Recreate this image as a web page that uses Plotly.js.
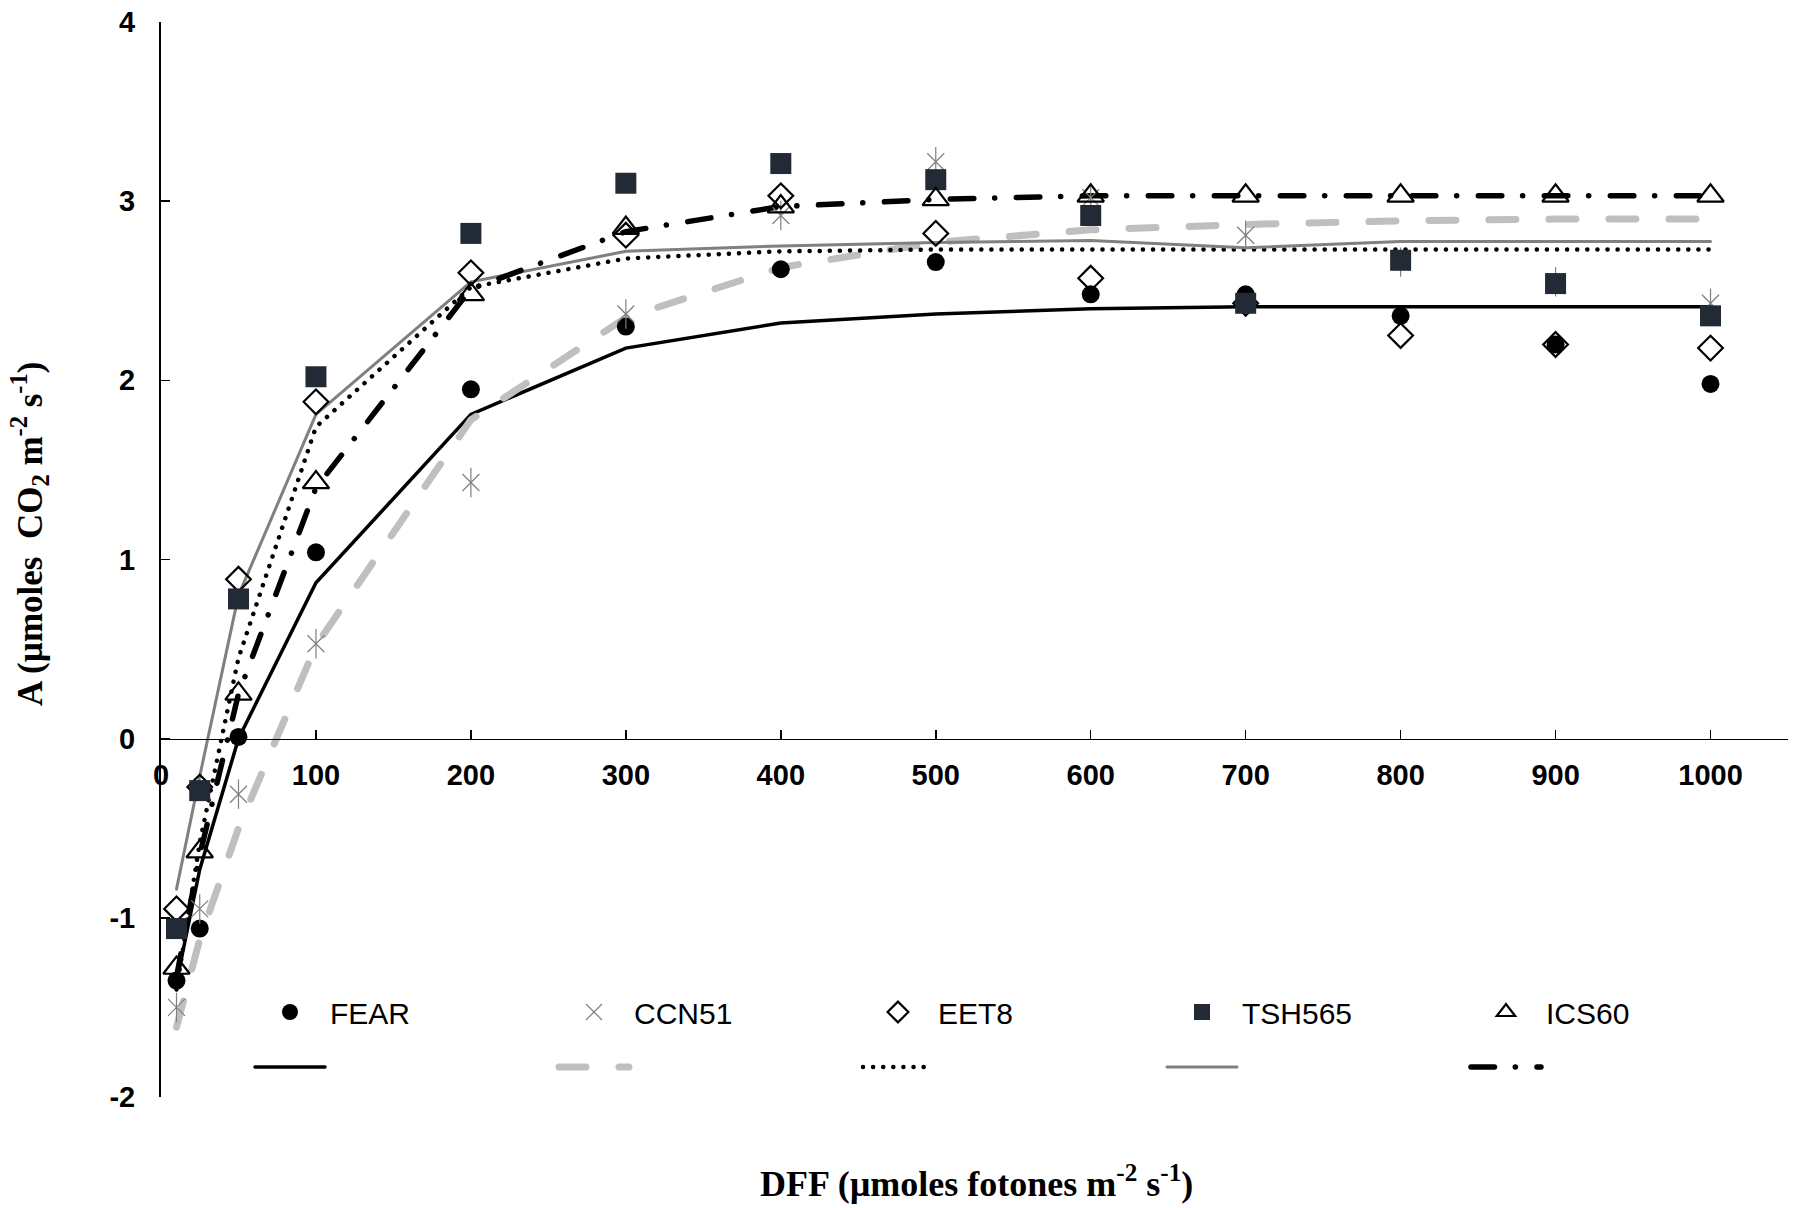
<!DOCTYPE html>
<html>
<head>
<meta charset="utf-8">
<script src="https://cdn.plot.ly/plotly-3.0.1.min.js"></script>
<style>
  html, body { margin: 0; padding: 0; background: #fff; }
  #chart { width: 1800px; height: 1208px; }
  svg .js-line { stroke-linecap: round !important; }
</style>
</head>
<body>
<div id="chart"></div>
<script>
// DFF (µmoles fotones m-2 s-1)
const dff = [10, 25, 50, 100, 200, 300, 400, 500, 600, 700, 800, 900, 1000];

// Observed photosynthesis A (points)
const fearObs   = [-1.35, -1.06, 0.01, 1.04, 1.95, 2.30, 2.62, 2.66, 2.48, 2.48, 2.36, 2.20, 1.98];
const ccn51Obs  = [-1.50, -0.95, -0.31, 0.53, 1.43, 2.37, 2.92, 3.22, 3.02, 2.81, 2.66, 2.55, 2.43];
const eet8Obs   = [-0.95, -0.27, 0.89, 1.88, 2.60, 2.81, 3.03, 2.82, 2.57, 2.43, 2.25, 2.20, 2.18];
const tsh565Obs = [-1.06, -0.29, 0.78, 2.02, 2.82, 3.10, 3.21, 3.12, 2.92, 2.43, 2.67, 2.54, 2.36];
const ics60Obs  = [-1.28, -0.63, 0.25, 1.43, 2.48, 2.85, 2.97, 3.01, 3.03, 3.03, 3.03, 3.03, 3.03];

// Fitted curves
const fearFit   = [-1.36, -0.73, 0.00, 0.87, 1.81, 2.18, 2.32, 2.37, 2.40, 2.41, 2.41, 2.41, 2.41];
const ccn51Fit  = [-1.61, -1.12, -0.50, 0.52, 1.78, 2.35, 2.63, 2.77, 2.84, 2.87, 2.89, 2.90, 2.90];
const eet8Fit   = [-1.40, -0.58, 0.45, 1.74, 2.52, 2.68, 2.72, 2.73, 2.73, 2.73, 2.73, 2.73, 2.73];
const tsh565Fit = [-0.84, -0.21, 0.80, 1.81, 2.55, 2.72, 2.75, 2.77, 2.78, 2.74, 2.775, 2.775, 2.775];
const ics60Fit  = [-1.33, -0.65, 0.25, 1.40, 2.51, 2.83, 2.97, 3.01, 3.03, 3.03, 3.03, 3.03, 3.03];

const seriesNames = ["FEAR", "CCN51", "EET8", "TSH565", "ICS60"];
const xTicks = [0, 100, 200, 300, 400, 500, 600, 700, 800, 900, 1000];
const yTicks = [-2, -1, 0, 1, 2, 3, 4];

const fits = [fearFit, ccn51Fit, eet8Fit, tsh565Fit, ics60Fit];
const obs = [fearObs, ccn51Obs, eet8Obs, tsh565Obs, ics60Obs];

const lineStyles = [
  {color: '#000000', width: 3.5, dash: 'solid'},
  {color: '#bfbfbf', width: 7, dash: '27px,33px'},
  {color: '#000000', width: 4.5, dash: '0.1px,10px'},
  {color: '#808080', width: 3, dash: 'solid'},
  {color: '#000000', width: 5.5, dash: '23.5px,20.8px,0.1px,21.6px'}
];
const markerStyles = [
  {symbol: 'circle', size: 18, color: '#000000', line: {width: 0}},
  {symbol: 'x-thin-open', size: 17, color: '#7f7f7f', line: {width: 1.2, color: '#7f7f7f'}},
  {symbol: 'diamond-open', size: 19, color: '#000000', line: {width: 2.2, color: '#000000'}},
  {symbol: 'square', size: 21, color: '#222a35', line: {width: 0}},
  {symbol: 'triangle-up-open', size: 23, color: '#000000', line: {width: 2.2, color: '#000000'}}
];

const traces = [];
// fitted lines first (drawn below points), listed in legend2 (no labels)
fits.forEach((f, i) => {
  traces.push({
    x: dff, y: f, type: 'scatter', mode: 'lines',
    name: ' ', legend: 'legend2', showlegend: true,
    line: lineStyles[i], hoverinfo: 'skip'
  });
});
// observed points
obs.forEach((o, i) => {
  if (i === 1) {
    traces.push({
      x: dff, y: o, type: 'scatter', mode: 'markers', showlegend: false,
      marker: {symbol: 'line-ns-open', size: 21, color: '#7f7f7f', line: {width: 1.2, color: '#7f7f7f'}}
    });
  }
  traces.push({
    x: dff, y: o, type: 'scatter', mode: 'markers',
    name: seriesNames[i], legend: 'legend',
    marker: markerStyles[i]
  });
});

const tickFont = {family: 'Liberation Sans, Arial, sans-serif', size: 29, color: '#000', weight: 'bold'};
const titleFont = {family: 'Liberation Serif, Times New Roman, serif', size: 35, color: '#000', weight: 'bold'};
const xTitleFont = {family: 'Liberation Serif, Times New Roman, serif', size: 36, color: '#000', weight: 'bold'};

const plotL = 161, plotR = 1788.5, plotT = 22, plotB = 1097;
const pw = plotR - plotL, ph = plotB - plotT;

const layout = {
  width: 1800, height: 1208,
  paper_bgcolor: '#fff', plot_bgcolor: '#fff',
  margin: {l: plotL, r: 1800 - plotR, t: plotT, b: 1208 - plotB, autoexpand: false},
  showlegend: true,
  xaxis: {
    range: [0, 1050], tickvals: xTicks, ticktext: xTicks.map(String),
    anchor: 'free', position: 2/6,
    showline: true, linecolor: '#000', linewidth: 1.5,
    ticks: 'inside', ticklen: 9, tickwidth: 1.5, tickcolor: '#000',
    showgrid: false, zeroline: false, tickfont: tickFont, ticklabelstandoff: 10
  },
  yaxis: {
    range: [-2, 4], tickvals: yTicks, ticktext: yTicks.map(String),
    showline: true, linecolor: '#000', linewidth: 2,
    ticks: 'inside', ticklen: 9, tickwidth: 1.5, tickcolor: '#000',
    showgrid: false, zeroline: false, tickfont: tickFont, ticklabelstandoff: 18
  },
  legend: {
    orientation: 'h', xref: 'paper', yref: 'paper',
    x: (250 - plotL) / pw, y: (plotB - 1012) / ph, xanchor: 'left', yanchor: 'middle',
    itemwidth: 70, entrywidth: 219, entrywidthmode: 'pixels',
    bgcolor: 'rgba(0,0,0,0)', borderwidth: 0,
    font: {family: 'Liberation Sans, Arial, sans-serif', size: 30, color: '#000'}
  },
  legend2: {
    orientation: 'h', xref: 'paper', yref: 'paper',
    x: (250 - plotL) / pw, y: (plotB - 1067) / ph, xanchor: 'left', yanchor: 'middle',
    itemwidth: 70, entrywidth: 219, entrywidthmode: 'pixels',
    bgcolor: 'rgba(0,0,0,0)', borderwidth: 0,
    font: {family: 'Liberation Sans, Arial, sans-serif', size: 20, color: '#000'}
  },
  annotations: [
    {
      text: 'A (µmoles\u00a0 CO<sub>2</sub> m<sup>-2</sup> s<sup>-1</sup>)',
      xref: 'paper', yref: 'paper', x: (29 - plotL) / pw, y: (plotB - 534) / ph,
      xanchor: 'center', yanchor: 'middle', textangle: -90, showarrow: false,
      font: titleFont
    },
    {
      text: 'DFF (µmoles fotones m<sup>-2</sup> s<sup>-1</sup>)',
      xref: 'paper', yref: 'paper', x: (977 - plotL) / pw, y: (plotB - 1181) / ph,
      xanchor: 'center', yanchor: 'middle', showarrow: false,
      font: xTitleFont
    }
  ]
};

Plotly.newPlot('chart', traces, layout, {displayModeBar: false, staticPlot: true});
</script>
</body>
</html>
